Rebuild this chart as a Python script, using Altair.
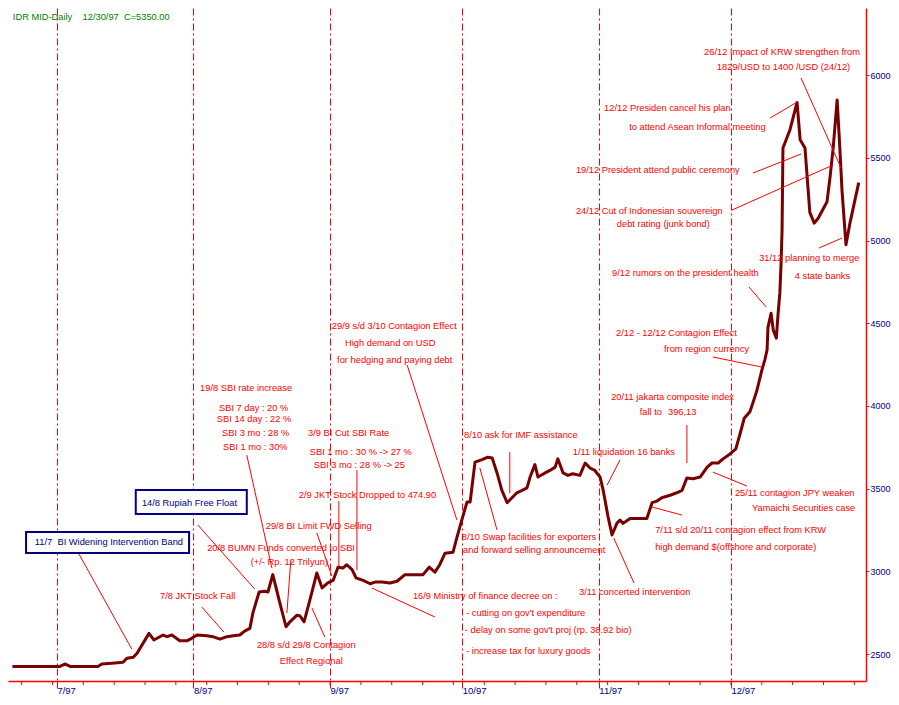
import json
import altair as alt
import pandas as pd

T0 = pd.Timestamp("1997-07-01")
FONT = "Liberation Sans"
RED = "#ff0000"
NAVY = "#000080"

# ---- IDR/USD mid rate (day offset from 1 Jul 1997, rate) ----
day = [-10.1, -1.1, 0.7, 1.8, 3.0, 9.3, 10.2, 12.5, 15.0, 15.9,
       17.3, 18.2, 20.9, 22.0, 24.1, 25.0, 26.1, 27.9, 29.5, 30.6,
       31.8, 34.1, 35.4, 37.0, 38.6, 40.0, 41.5, 42.7, 43.8, 44.5,
       45.9, 47.2, 47.9, 49.0, 50.6, 52.0, 52.9, 54.5, 55.2, 56.1,
       57.4, 59.0, 60.2, 61.5, 62.7, 63.8, 64.9, 65.8, 67.0, 67.9,
       69.5, 71.1, 72.2, 73.8, 75.6, 77.2, 79.0, 81.3, 83.1, 84.5,
       85.8, 86.9, 88.1, 89.9, 90.8, 91.9, 93.1, 93.8, 94.9, 96.5,
       97.8, 98.8, 99.9, 101.0, 102.2, 103.3, 104.4, 105.6, 106.7, 107.4,
       108.5, 109.2, 110.8, 111.9, 113.1, 113.7, 114.9, 116.0, 117.1, 118.7,
       119.9, 121.0, 122.1, 123.3, 124.0, 125.1, 126.0, 127.1, 127.8, 128.5,
       130.1, 133.9, 135.1, 136.2, 137.3, 139.2, 140.7, 141.9, 143.0, 144.4,
       146.0, 147.6, 148.7, 150.1, 151.2, 152.8, 154.1, 155.1, 156.0, 157.3,
       158.0, 158.9, 160.0, 160.7, 161.2, 161.4, 162.1, 162.6, 163.3, 163.7,
       164.1, 164.4, 164.6, 164.8, 166.4, 168.0, 168.7, 169.8, 170.9, 171.9,
       172.8, 174.8, 175.5, 176.2, 177.1, 177.7, 178.2, 179.1, 180.0, 182.0]
idr = [2425, 2425, 2425, 2440, 2425, 2425, 2440, 2445, 2450, 2475,
       2480, 2505, 2625, 2585, 2615, 2605, 2615, 2580, 2580, 2595,
       2615, 2610, 2605, 2590, 2605, 2610, 2615, 2640, 2655, 2750,
       2875, 2880, 2875, 2980, 2810, 2665, 2695, 2735, 2730, 2695,
       2825, 2990, 2900, 2930, 2945, 3025, 3020, 3040, 3010, 2960,
       2945, 2925, 2935, 2935, 2930, 2940, 2980, 2980, 2980, 3025,
       2995, 3040, 3110, 3115, 3205, 3310, 3420, 3420, 3660, 3675,
       3690, 3685, 3595, 3490, 3415, 3445, 3475, 3490, 3505, 3570,
       3645, 3570, 3595, 3610, 3630, 3680, 3595, 3580, 3590, 3580,
       3655, 3625, 3610, 3570, 3490, 3330, 3220, 3290, 3310, 3290,
       3320, 3320, 3415, 3425, 3445, 3460, 3475, 3490, 3565, 3560,
       3570, 3630, 3655, 3655, 3680, 3710, 3740, 3835, 3925, 3965,
       4020, 4095, 4215, 4280, 4340, 4475, 4560, 4460, 4410, 4560,
       4685, 4880, 5065, 5560, 5670, 5835, 5610, 5560, 5170, 5105,
       5135, 5235, 5385, 5560, 5850, 5565, 5305, 4975, 5105, 5350]

# ---- axes ----
x_domain_days = [-11.1, 183.65]
y_domain = [2337, 6406]
month_start = ["1997-07-01", "1997-08-01", "1997-09-01", "1997-10-01", "1997-11-01", "1997-12-01"]
month_label = ["7/97", "8/97", "9/97", "10/97", "11/97", "12/97"]
week_tick = ["1997-06-23", "1997-06-30", "1997-07-07", "1997-07-14", "1997-07-21", "1997-07-28",
             "1997-08-04", "1997-08-11", "1997-08-18", "1997-08-25", "1997-09-01", "1997-09-08",
             "1997-09-15", "1997-09-22", "1997-09-29", "1997-10-06", "1997-10-13", "1997-10-20",
             "1997-10-27", "1997-11-03", "1997-11-10", "1997-11-17", "1997-11-24", "1997-12-01",
             "1997-12-08", "1997-12-15", "1997-12-22", "1997-12-29"]
y_ticks = [2500, 3000, 3500, 4000, 4500, 5000, 5500, 6000]

header_text = "IDR MID-Daily\u00a0\u00a0\u00a0 12/30/97\u00a0\u00a0C=5350.00"
header_day, header_idr = -10.0, 6351

# ---- annotations (text, anchor day, anchor rate) ----
note_text = [
    "19/8 SBI rate increase", "SBI 7 day : 20 %", "SBI 14 day : 22 %", "SBI 3 mo : 28 %", "SBI 1 mo : 30%",
    "3/9 BI Cut SBI Rate", "SBI 1 mo : 30 % -> 27 %", "SBI 3 mo : 28 % -> 25",
    "2/9 JKT Stock Dropped to 474.90", "29/8 BI Limit FWD Selling",
    "20/8 BUMN Funds converted to SBI", "(+/- Rp. 12 Trilyun)", "7/8 JKT Stock Fall",
    "28/8 s/d 29/8 Contagion", "Effect Regional",
    "29/9 s/d 3/10 Contagion Effect", "High demand on USD", "for hedging and paying debt",
    "16/9 Ministry of finance decree on :", "- cutting on gov't expenditure",
    "- delay on some gov't proj (rp. 38.92 bio)", "- increase tax for luxury goods",
    "8/10 ask for IMF assistance", "8/10 Swap facilities for exporters", "and forward selling announcement",
    "1/11 liquidation 16 banks", "3/11 concerted intervention",
    "7/11 s/d 20/11 contagion effect from KRW", "high demand $(offshore and corporate)",
    "20/11 jakarta composite index", "fall to", "396,13",
    "25/11 contagion JPY weaken", "Yamaichi Securities case",
    "2/12 - 12/12 Contagion Effect", "from region currency",
    "9/12 rumors on the president health", "31/12 planning to merge", "4 state banks",
    "24/12 Cut of Indonesian souvereign", "debt rating (junk bond)",
    "19/12 President attend public ceremony",
    "12/12 Presiden cancel his plan", "to attend Asean Informal meeting",
    "26/12 Impact of KRW strengthen from", "1829/USD to 1400 /USD (24/12)",
]
note_day = [32.5, 36.8, 36.3, 37.5, 37.7,
            57.0, 57.4, 58.3,
            54.9, 47.4,
            34.1, 44.0, 23.4,
            45.4, 50.6,
            62.4, 65.4, 63.6,
            80.8, 92.9, 92.6, 92.9,
            92.4, 91.9, 92.2,
            117.1, 118.5,
            135.8, 135.8,
            125.8, 132.3, 138.7,
            153.9, 157.8,
            126.9, 137.8,
            126.0, 159.4, 167.5,
            117.8, 127.1,
            117.8,
            124.2, 129.9,
            146.9, 149.8]
note_idr = [4108, 3987, 3921, 3836, 3752,
            3836, 3721, 3643,
            3461, 3274,
            3141, 3056, 2851,
            2554, 2458,
            4483, 4380, 4278,
            2851, 2748, 2645, 2518,
            3824, 3207, 3129,
            3721, 2875,
            3250, 3147,
            4054, 3963, 3963,
            3473, 3383,
            4441, 4344,
            4804, 4894, 4785,
            5178, 5100,
            5426,
            5801, 5686,
            6140, 6049]

# ---- boxed notes ----
box_text = ["14/8 Rupiah Free Float", "11/7\u00a0\u00a0BI Widening Intervention Band"]
box_text_day = [19.3, -5.0]
box_text_idr = [3413, 3177]
box_day1 = [17.9, -7.0]
box_day2 = [43.1, 30.0]
box_idr1 = [3492, 3238]
box_idr2 = [3346, 3111]

# ---- leader lines (from day/rate to day/rate) ----
lead_day1 = [5.0, 32.0, 32.9, 43.1, 53.1, 59.0, 64.0, 68.1, 60.8, 79.5, 71.5, 102.8, 99.9,
             127.8, 131.0, 141.9, 143.0, 156.6, 148.9, 157.1, 173.0, 153.2, 158.0, 161.9, 168.9]
lead_idr1 = [3105, 3280, 2784, 3703, 3068, 3232, 3425, 3612, 2603, 4247, 2899, 3721, 3250,
             3673, 2929, 3340, 3885, 3516, 4296, 4719, 4955, 5184, 5408, 5741, 5983]
lead_day2 = [17.0, 44.9, 37.9, 48.8, 52.2, 62.4, 64.0, 68.1, 57.9, 90.8, 85.8, 102.8, 96.0,
             124.9, 126.4, 135.1, 143.0, 148.9, 160.0, 161.0, 178.2, 176.2, 168.9, 168.0, 178.0]
lead_idr2 = [2530, 2893, 2633, 3020, 2748, 2972, 3032, 3008, 2778, 3310, 2724, 3473, 3625,
             3522, 3201, 3389, 3655, 3600, 4235, 4598, 5015, 5457, 5523, 5837, 5438]


def to_time(days):
    return [T0 + pd.Timedelta(days=float(d)) for d in days]


def to_dt(t):
    return alt.DateTime(year=t.year, month=t.month, date=t.day, hours=t.hour, minutes=t.minute)


series = pd.DataFrame({"date": to_time(day), "idr": idr})
weeks = pd.DataFrame({"date": [pd.Timestamp(s) for s in week_tick]})
notes = pd.DataFrame({
    "date": to_time(note_day + box_text_day + [header_day]),
    "idr": note_idr + box_text_idr + [header_idr],
    "text": note_text + box_text + [header_text],
    "color": [RED] * len(note_text) + [NAVY] * len(box_text) + ["#008000"],
})
boxes = pd.DataFrame({"date": to_time(box_day1), "date2": to_time(box_day2),
                      "idr": box_idr1, "idr2": box_idr2})
leads = pd.DataFrame({"date": to_time(lead_day1), "date2": to_time(lead_day2),
                      "idr": lead_idr1, "idr2": lead_idr2})

xscale = alt.Scale(domain=[to_dt(t) for t in to_time(x_domain_days)], nice=False)
yscale = alt.Scale(domain=y_domain, nice=False, zero=False)

label_expr = json.dumps(month_label) + "[month(datum.value) - 6]"
x_axis = alt.Axis(
    values=[to_dt(pd.Timestamp(s)) for s in month_start],
    labelExpr=label_expr, labelAlign="left", labelPadding=-3,
    labelColor=NAVY, labelFont=FONT, labelFontSize=9.5,
    tickColor=RED, tickSize=7, domainColor=RED, domainWidth=1.5,
    grid=True, gridColor=RED, gridDash=[7, 3, 2, 3], gridWidth=1, gridOpacity=1,
    title=None,
)
y_axis = alt.Axis(
    orient="right", values=y_ticks, format="d",
    labelColor=NAVY, labelFont=FONT, labelFontSize=9, labelPadding=1,
    tickColor=RED, tickSize=3, domainColor=RED, domainWidth=1.5,
    grid=False, title=None,
)

line_layer = alt.Chart(series).mark_line(color="#7a0000", strokeWidth=3, strokeJoin="round").encode(
    x=alt.X("date:T", scale=xscale, axis=x_axis),
    y=alt.Y("idr:Q", scale=yscale, axis=y_axis))

lead_layer = alt.Chart(leads).mark_rule(color=RED, strokeWidth=1).encode(
    x=alt.X("date:T", scale=xscale), x2="date2:T",
    y=alt.Y("idr:Q", scale=yscale), y2="idr2:Q")

week_layer = alt.Chart(weeks).mark_rule(color=RED, strokeWidth=1).encode(
    x=alt.X("date:T", scale=xscale), y=alt.value(673), y2=alt.value(677))

box_layer = alt.Chart(boxes).mark_rect(fill="white", stroke=NAVY, strokeWidth=2).encode(
    x=alt.X("date:T", scale=xscale), x2="date2:T",
    y=alt.Y("idr:Q", scale=yscale), y2="idr2:Q")

text_layer = alt.Chart(notes).mark_text(
    align="left", baseline="middle", font=FONT, fontSize=9.3).encode(
    x=alt.X("date:T", scale=xscale), y=alt.Y("idr:Q", scale=yscale),
    text="text:N", color=alt.Color("color:N", scale=None))

chart = alt.layer(line_layer, lead_layer, week_layer, box_layer, text_layer).properties(
    width=858, height=673,
    autosize=alt.AutoSizeParams(type="none"),
    padding={"left": 0, "top": 0, "right": 25, "bottom": 16},
    background="white",
).configure_view(stroke=None)

chart.save("out.html", embed_options={"renderer": "svg", "actions": False})
